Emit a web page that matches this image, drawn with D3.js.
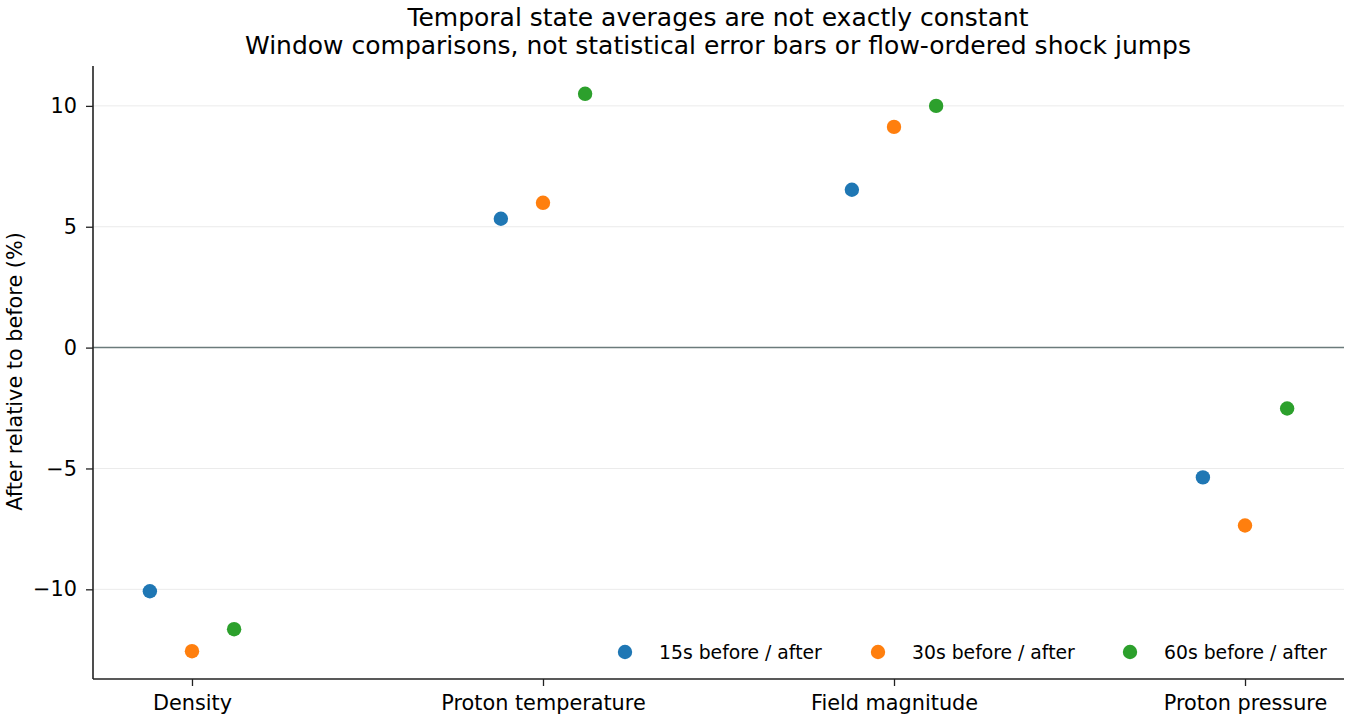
<!DOCTYPE html>
<html><head><meta charset="utf-8">
<script src="https://cdn.jsdelivr.net/npm/d3@7"></script>
<style>body{margin:0;background:#fff;} svg{font-family:"DejaVu Sans",sans-serif;}</style>
</head><body>
<svg id="c" width="1350" height="720"></svg>
<script>
const categories = ["Density","Proton temperature","Field magnitude","Proton pressure"];
const seriesNames = ["15s before / after","30s before / after","60s before / after"];
const seriesColors = ["#1f77b4","#ff7f0e","#2ca02c"];
const seriesOffsets = [-0.12, 0, 0.12];
const values15 = [-10.08, 5.33, 6.53, -5.37];
const values30 = [-12.56, 5.99, 9.13, -7.36];
const values60 = [-11.65, 10.50, 10.00, -2.52];
const yTicks = [-10, -5, 0, 5, 10];
const titleLines = ["Temporal state averages are not exactly constant","Window comparisons, not statistical error bars or flow-ordered shock jumps"];
const yLabel = "After relative to before (%)";

const series = [values15, values30, values60];
const svg = d3.select("#c");
const L = 93, R = 1344, T = 66, B = 679;
const x = d3.scaleLinear().domain([-0.282, 3.282]).range([L, R]);
const y = d3.scaleLinear().domain([-13.71, 11.65]).range([B, T]);

// grid
svg.append("g").selectAll("line").data(yTicks.filter(d=>d!==0)).join("line")
  .attr("x1", L).attr("x2", R).attr("y1", d=>y(d)).attr("y2", d=>y(d))
  .attr("stroke", "#ebebeb").attr("stroke-width", 1);
// zero line
svg.append("line").attr("x1", L).attr("x2", R).attr("y1", y(0)).attr("y2", y(0))
  .attr("stroke", "#6b7b7b").attr("stroke-width", 1.5);

// points
series.forEach((vals, si) => {
  svg.append("g").selectAll("circle").data(vals).join("circle")
    .attr("cx", (d,i)=>x(i + seriesOffsets[si]))
    .attr("cy", d=>y(d))
    .attr("r", 7.2)
    .attr("fill", seriesColors[si]);
});

// axes
const yAxis = d3.axisLeft(y).tickValues(yTicks).tickSize(7).tickPadding(9)
  .tickFormat(d => d < 0 ? "\u2212" + Math.abs(d) : d);
const gy = svg.append("g").attr("transform", `translate(${L},0)`).call(yAxis);
gy.select(".domain").attr("d", `M0,${T}V${B}`);
const xAxis = d3.axisBottom(x).tickValues([0,1,2,3]).tickSize(7).tickPadding(9)
  .tickFormat(i => categories[i]);
const gx = svg.append("g").attr("transform", `translate(0,${B})`).call(xAxis);
gx.select(".domain").attr("d", `M${L},0H${R}`);
[gx, gy].forEach(g => {
  g.select(".domain").attr("stroke", "#222").attr("stroke-width", 1.6);
  g.selectAll(".tick line").attr("stroke", "#222").attr("stroke-width", 1.3);
  g.selectAll("text").attr("fill", "#000").attr("font-family", "DejaVu Sans")
    .attr("font-size", "20.8px");
});

// title
svg.append("g").selectAll("text").data(titleLines).join("text")
  .attr("x", 718).attr("y", (d,i)=> 26 + i*28)
  .attr("text-anchor", "middle").attr("font-size", "25px").attr("fill", "#000")
  .text(d=>d);

// y label
svg.append("text").attr("transform", `translate(22,${(T+B)/2 - 1}) rotate(-90)`)
  .attr("text-anchor", "middle").attr("font-size", "20.8px").attr("fill", "#000")
  .text(yLabel);

// legend
const legX = [625, 878, 1130];
const lg = svg.append("g").selectAll("g").data(seriesNames).join("g")
  .attr("transform", (d,i)=>`translate(${legX[i]},652)`);
lg.append("circle").attr("r", 7.2).attr("fill", (d,i)=>seriesColors[i]);
lg.append("text").attr("x", 34).attr("y", 6.5).attr("font-size", "18.8px").attr("fill", "#000").text(d=>d);
</script>
</body></html>
